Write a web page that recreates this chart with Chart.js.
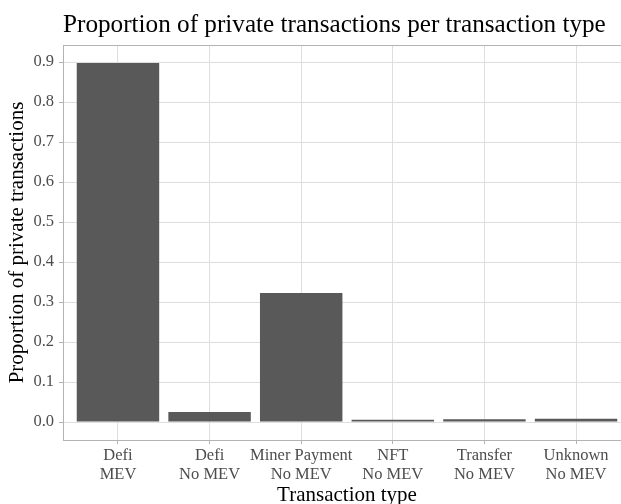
<!DOCTYPE html>
<html>
<head>
<meta charset="utf-8">
<script src="https://cdn.jsdelivr.net/npm/chart.js@4.4.1/dist/chart.umd.min.js"></script>
<style>
  html, body { margin: 0; padding: 0; background: #fff; overflow: hidden; width: 621px; height: 504px; }
  #wrap { width: 640px; height: 504px; }
</style>
</head>
<body>
<div id="wrap"><canvas id="grafico" width="640" height="504"></canvas></div>
<script>
// Datos
const categorias = [
    ['Defi', 'MEV'],
    ['Defi', 'No MEV'],
    ['Miner Payment', 'No MEV'],
    ['NFT', 'No MEV'],
    ['Transfer', 'No MEV'],
    ['Unknown', 'No MEV']
];
const proporciones = [0.898, 0.025, 0.323, 0.006, 0.007, 0.008];
const yTicks = [0, 0.05, 0.1, 0.15, 0.2, 0.25, 0.3, 0.35, 0.4, 0.45, 0.5, 0.55, 0.6, 0.65, 0.7, 0.75, 0.8, 0.85, 0.9];

const titulo = 'Proportion of private transactions per transaction type';
const serif = "'Liberation Serif', 'DejaVu Serif', serif";

const esMayor = v => Math.abs(v * 10 - Math.round(v * 10)) < 1e-6;

// Título alineado con el panel (como ggplot) y borde del panel
const panelPlugin = {
    id: 'panel',
    afterDraw(chart) {
        const { ctx, chartArea } = chart;
        ctx.save();
        ctx.strokeStyle = '#B3B3B3';
        ctx.lineWidth = 1;
        ctx.strokeRect(Math.round(chartArea.left) + 0.5, Math.round(chartArea.top) + 0.5,
            chartArea.right - chartArea.left, chartArea.bottom - chartArea.top);
        ctx.fillStyle = '#000';
        ctx.font = '25.2px ' + serif;
        ctx.textBaseline = 'alphabetic';
        ctx.textAlign = 'left';
        ctx.fillText(titulo, chartArea.left, 32);
        ctx.restore();
    }
};

const ctx = document.getElementById('grafico').getContext('2d');
new Chart(ctx, {
    type: 'bar',
    data: {
        datasets: [{
            data: categorias.map((c, i) => ({ x: i + 1, y: proporciones[i] })),
            backgroundColor: '#595959',
            borderWidth: 0,
            barPercentage: 0.9,
            categoryPercentage: 1
        }]
    },
    plugins: [panelPlugin],
    options: {
        responsive: false,
        animation: false,
        layout: { padding: { top: 45, right: 9, bottom: 0, left: 0 } },
        plugins: {
            legend: { display: false },
            tooltip: { enabled: false },
            title: { display: false }
        },
        scales: {
            x: {
                type: 'linear',
                offset: false,
                min: 0.4,
                max: 6.6,
                afterBuildTicks: s => { s.ticks = categorias.map((c, i) => ({ value: i + 1 })); },
                afterFit: s => { s.height = 64; },
                border: { display: false },
                grid: { offset: false, color: '#DEDEDE', lineWidth: 1, tickLength: 4, tickColor: '#B3B3B3' },
                ticks: {
                    autoSkip: false,
                    maxRotation: 0,
                    padding: 3,
                    color: '#4D4D4D',
                    font: { family: serif, size: 16.5, lineHeight: 1.1 },
                    callback: v => categorias[Math.round(v) - 1]
                },
                title: {
                    display: true,
                    text: 'Transaction type',
                    color: '#000',
                    font: { family: serif, size: 21, lineHeight: 0.85 },
                    padding: { top: 0, bottom: 0 }
                }
            },
            y: {
                min: -0.0449,
                max: 0.9429,
                afterBuildTicks: s => { s.ticks = yTicks.map(v => ({ value: v })); },
                afterFit: s => { s.width = 63; },
                border: { display: false },
                grid: {
                    color: c => esMayor(c.tick.value) ? '#DEDEDE' : '#EBEBEB',
                    lineWidth: 1,
                    tickLength: 4,
                    tickColor: c => esMayor(c.tick.value) ? '#B3B3B3' : 'rgba(0,0,0,0)'
                },
                ticks: {
                    padding: 5,
                    color: '#4D4D4D',
                    font: { family: serif, size: 16.5 },
                    callback: v => esMayor(v) ? v.toFixed(1) : ''
                },
                title: {
                    display: true,
                    text: 'Proportion of private transactions',
                    color: '#000',
                    font: { family: serif, size: 21, lineHeight: 1 },
                    padding: { top: 6.5, bottom: 0 }
                }
            }
        }
    }
});
</script>
</body>
</html>
